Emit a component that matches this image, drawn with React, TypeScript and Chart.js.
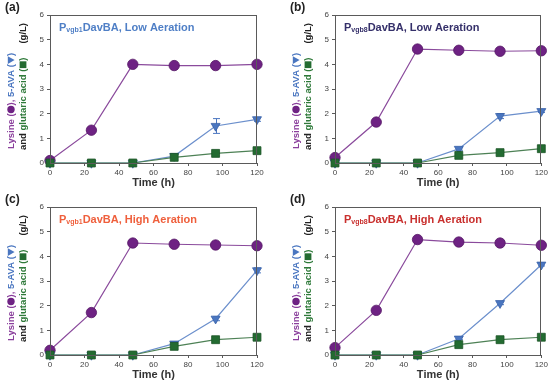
import React, { useEffect, useRef } from "react";
import { Chart, registerables } from "chart.js";

Chart.register(...registerables);

const time = [0, 24, 48, 72, 96, 120];
const xTicks = [0, 20, 40, 60, 80, 100, 120];
const yTicks = [0, 1, 2, 3, 4, 5, 6];

const lysineA = [0.1, 1.33, 4.0, 3.95, 3.95, 4.0];
const avaA = [0, 0, 0, 0.28, 1.5, 1.77];
const glutA = [0, 0, 0, 0.23, 0.39, 0.5];
const lysErrA = [0, 0, 0, 0, 0, 0];
const avaErrA = [0, 0, 0, 0, 0.3, 0.08];

const lysineB = [0.22, 1.66, 4.62, 4.57, 4.53, 4.55];
const avaB = [0, 0, 0, 0.57, 1.9, 2.1];
const glutB = [0, 0, 0, 0.31, 0.42, 0.58];
const lysErrB = [0, 0, 0, 0, 0, 0];
const avaErrB = [0, 0, 0, 0.05, 0.1, 0.05];

const lysineC = [0.19, 1.72, 4.54, 4.49, 4.46, 4.43];
const avaC = [0, 0, 0, 0.46, 1.47, 3.43];
const glutC = [0, 0, 0, 0.35, 0.62, 0.72];
const lysErrC = [0, 0, 0, 0, 0, 0];
const avaErrC = [0, 0, 0, 0.03, 0.08, 0.1];

const lysineD = [0.3, 1.81, 4.68, 4.58, 4.54, 4.45];
const avaD = [0, 0, 0, 0.66, 2.1, 3.66];
const glutD = [0, 0, 0, 0.42, 0.62, 0.72];
const lysErrD = [0, 0, 0, 0, 0.1, 0];
const avaErrD = [0, 0, 0, 0.04, 0.06, 0.05];

const panelLabels = ["(a)", "(b)", "(c)", "(d)"];
const promoterSubs = ["vgb1", "vgb8", "vgb1", "vgb8"];
const conditions = ["Low Aeration", "Low Aeration", "High Aeration", "High Aeration"];
const titleColors = ["#4f7fc6", "#35306a", "#ef5f3c", "#c9302e"];

const FONT = '"Liberation Sans", Arial, sans-serif';
const PURPLE = "#6e2283";
const PURPLE_LINE = "#8a4a9c";
const BLUE = "#4a76c0";
const BLUE_LINE = "#6b8fcc";
const GREEN = "#236b31";
const GREEN_LINE = "#4d8155";
const AXIS = "#5a5a5a";

type PanelProps = {
  idx: number;
  left: number;
  top: number;
  width: number;
  height: number;
  plotLeft: number;
  plotRight: number;
  lysine: number[];
  ava: number[];
  glut: number[];
  lysErr: number[];
  avaErr: number[];
};

type Seg = { t?: string; sym?: "circle" | "tri" | "square"; gap?: number; color: string };

function Panel(p: PanelProps) {
  const ref = useRef<HTMLCanvasElement | null>(null);
  useEffect(() => {
    if (!ref.current) return;
    const pts = (arr: number[]) => time.map((t, i) => ({ x: t, y: arr[i] }));
    const plotTop = 15;
    const plotBottom = 163;

    const decor = {
      id: "decor",
      beforeDatasetsDraw(chart: any) {
        const ctx = chart.ctx;
        const xs = chart.scales.x;
        const ys = chart.scales.y;
        const drawErr = (vals: number[], errs: number[], color: string) => {
          ctx.save();
          ctx.strokeStyle = color;
          ctx.lineWidth = 1;
          time.forEach((t, i) => {
            const e = errs[i];
            if (!e) return;
            const x = Math.round(xs.getPixelForValue(t)) + 0.5;
            const y1 = ys.getPixelForValue(vals[i] + e);
            const y2 = ys.getPixelForValue(vals[i] - e);
            ctx.beginPath();
            ctx.moveTo(x, y1);
            ctx.lineTo(x, y2);
            ctx.moveTo(x - 3.5, y1);
            ctx.lineTo(x + 3.5, y1);
            ctx.moveTo(x - 3.5, y2);
            ctx.lineTo(x + 3.5, y2);
            ctx.stroke();
          });
          ctx.restore();
        };
        drawErr(p.lysine, p.lysErr, PURPLE);
        drawErr(p.ava, p.avaErr, BLUE);
      },
      afterDraw(chart: any) {
        const ctx = chart.ctx;
        const a = chart.chartArea;
        ctx.save();
        ctx.strokeStyle = AXIS;
        ctx.lineWidth = 1;
        ctx.strokeRect(Math.round(a.left) + 0.5, Math.round(a.top) + 0.5, Math.round(a.right - a.left) - 1, Math.round(a.bottom - a.top));
        ctx.fillStyle = "#222";
        ctx.font = `bold 12px ${FONT}`;
        ctx.textBaseline = "middle";
        ctx.textAlign = "left";
        ctx.fillText(panelLabels[p.idx], a.left - 45, 8);
        let x = a.left + 9;
        const ty = a.top + 13;
        ctx.fillStyle = titleColors[p.idx];
        ctx.font = `bold 11px ${FONT}`;
        ctx.fillText("P", x, ty);
        x += ctx.measureText("P").width;
        ctx.font = `bold 7px ${FONT}`;
        ctx.fillText(promoterSubs[p.idx], x, ty + 2.5);
        x += ctx.measureText(promoterSubs[p.idx]).width;
        ctx.font = `bold 11px ${FONT}`;
        ctx.fillText(`DavBA, ${conditions[p.idx]}`, x, ty);

        const drawLine = (segs: Seg[], cx: number, startY: number) => {
          ctx.save();
          ctx.translate(cx, startY);
          ctx.rotate(-Math.PI / 2);
          ctx.textAlign = "left";
          ctx.textBaseline = "middle";
          ctx.font = `bold 9.5px ${FONT}`;
          let c = 0;
          segs.forEach((s) => {
            ctx.fillStyle = s.color;
            if (s.gap) {
              c += s.gap;
            } else if (s.t) {
              ctx.fillText(s.t, c, 0);
              c += ctx.measureText(s.t).width;
            } else {
              const w = 8;
              const mx = c + w / 2;
              ctx.beginPath();
              if (s.sym === "circle") {
                ctx.arc(mx, 0, 3.7, 0, Math.PI * 2);
              } else if (s.sym === "tri") {
                ctx.moveTo(mx - 3.8, -3.2);
                ctx.lineTo(mx + 3.8, -3.2);
                ctx.lineTo(mx, 3.6);
                ctx.closePath();
              } else {
                ctx.rect(mx - 3.4, -3.4, 6.8, 6.8);
              }
              ctx.fill();
              c += w;
            }
          });
          ctx.restore();
        };
        drawLine(
          [
            { t: "Lysine (", color: "#8a3f9c" },
            { sym: "circle", color: PURPLE },
            { t: "), ", color: "#8a3f9c" },
            { t: "5-AVA (", color: BLUE },
            { sym: "tri", color: BLUE },
            { t: ")", color: BLUE },
          ],
          a.left - 39,
          a.bottom - 14
        );
        drawLine(
          [
            { t: "and ", color: "#222" },
            { t: "glutaric acid (", color: "#2f7a3a" },
            { sym: "square", color: GREEN },
            { t: ")", color: "#2f7a3a" },
            { gap: 14, color: "#222" },
            { t: "(g/L)", color: "#222" },
          ],
          a.left - 27,
          a.bottom - 13
        );
        ctx.restore();
      },
    };

    const chart = new Chart(ref.current, {
      type: "line",
      data: {
        datasets: [
          {
            label: "Glutaric acid",
            data: pts(p.glut),
            borderColor: GREEN_LINE,
            borderWidth: 1.2,
            backgroundColor: GREEN,
            pointBackgroundColor: GREEN,
            pointBorderColor: "#1a5426",
            pointBorderWidth: 0.8,
            pointStyle: "rect",
            pointRadius: 5.6,
            order: 0,
            clip: false,
          } as any,
          {
            label: "5-AVA",
            data: pts(p.ava),
            borderColor: BLUE_LINE,
            borderWidth: 1.2,
            backgroundColor: BLUE,
            pointBackgroundColor: BLUE,
            pointBorderColor: "#3a62a8",
            pointBorderWidth: 0.8,
            pointStyle: "triangle",
            pointRotation: 180,
            pointRadius: 5.2,
            order: 1,
            clip: false,
          } as any,
          {
            label: "Lysine",
            data: pts(p.lysine),
            borderColor: PURPLE_LINE,
            borderWidth: 1.2,
            backgroundColor: PURPLE,
            pointBackgroundColor: PURPLE,
            pointBorderColor: "#561866",
            pointBorderWidth: 0.8,
            pointStyle: "circle",
            pointRadius: 5.2,
            order: 2,
            clip: false,
          } as any,
        ],
      },
      options: {
        animation: false,
        responsive: false,
        events: [],
        layout: {
          padding: {
            left: p.plotLeft - 14,
            right: p.width - p.plotRight,
            top: plotTop,
            bottom: 0,
          },
        },
        plugins: { legend: { display: false }, tooltip: { enabled: false } },
        scales: {
          x: {
            type: "linear",
            min: 0,
            max: 120,
            afterFit: (s: any) => {
              s.height = p.height - plotBottom;
            },
            afterBuildTicks: (s: any) => {
              s.ticks = xTicks.map((v) => ({ value: v }));
            },
            ticks: { color: "#444", font: { size: 8, family: FONT }, padding: 2, maxRotation: 0 },
            grid: { display: true, drawOnChartArea: false, drawTicks: true, tickLength: 3, color: AXIS },
            border: { display: true, color: AXIS },
            title: {
              display: true,
              text: "Time (h)",
              color: "#333",
              font: { size: 11, weight: "bold", family: FONT },
              padding: { top: 0, bottom: 2 + (p.height - 192) },
            },
          },
          y: {
            type: "linear",
            min: 0,
            max: 6,
            afterFit: (s: any) => {
              s.width = 14;
            },
            afterBuildTicks: (s: any) => {
              s.ticks = yTicks.map((v) => ({ value: v }));
            },
            ticks: { color: "#444", font: { size: 8, family: FONT }, padding: 3 },
            grid: { display: true, drawOnChartArea: false, drawTicks: true, tickLength: 3, color: AXIS },
            border: { display: true, color: AXIS },
          },
        },
      } as any,
      plugins: [decor],
    });
    return () => chart.destroy();
  }, []);

  return (
    <div style={{ position: "absolute", left: p.left, top: p.top, width: p.width, height: p.height }}>
      <canvas ref={ref} width={p.width} height={p.height} style={{ width: p.width, height: p.height, display: "block" }} />
    </div>
  );
}

export default function App() {
  return (
    <div style={{ position: "absolute", left: 0, top: 0, width: 550, height: 385, background: "#fff", overflow: "hidden" }}>
      <Panel idx={0} left={0} top={0} width={275} height={192} plotLeft={50} plotRight={257}
        lysine={lysineA} ava={avaA} glut={glutA} lysErr={lysErrA} avaErr={avaErrA} />
      <Panel idx={1} left={275} top={0} width={275} height={192} plotLeft={60} plotRight={267}
        lysine={lysineB} ava={avaB} glut={glutB} lysErr={lysErrB} avaErr={avaErrB} />
      <Panel idx={2} left={0} top={192} width={275} height={193} plotLeft={50} plotRight={257}
        lysine={lysineC} ava={avaC} glut={glutC} lysErr={lysErrC} avaErr={avaErrC} />
      <Panel idx={3} left={275} top={192} width={275} height={193} plotLeft={60} plotRight={267}
        lysine={lysineD} ava={avaD} glut={glutD} lysErr={lysErrD} avaErr={avaErrD} />
    </div>
  );
}
